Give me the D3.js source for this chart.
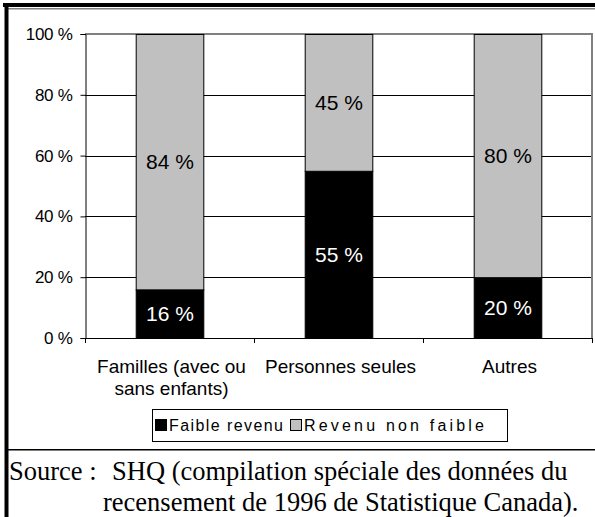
<!DOCTYPE html>
<html><head><meta charset="utf-8">
<script src="https://cdn.jsdelivr.net/npm/d3@7"></script>
<style>body{margin:0;background:#fff}svg{display:block}</style>
</head><body>
<script>
const categories = [["Familles (avec ou", "sans enfants)"], ["Personnes seules"], ["Autres"]];
const faibleRevenu = [16, 55, 20];
const revenuNonFaible = [84, 45, 80];
const seriesNames = ["Faible revenu", "Revenu non faible"];
const yTicks = [0, 20, 40, 60, 80, 100];
const sourceLines = ["Source :", "SHQ (compilation spéciale des données du", "recensement de 1996 de Statistique Canada)."];

const W = 595, H = 517;
const svg = d3.select("body").append("svg").attr("width", W).attr("height", H);
const colors = ["#000000", "#c0c0c0"];
const plot = {l: 85, r: 592, t: 34, b: 338};
const sans = "Liberation Sans, Arial, sans-serif";

// frame
svg.append("rect").attr("x", 3).attr("y", 3).attr("width", W - 3).attr("height", 4).attr("fill", "#000");
svg.append("rect").attr("x", 8).attr("y", 8).attr("width", W - 8).attr("height", 1.5).attr("fill", "#808080");
svg.append("rect").attr("x", 4.5).attr("y", 3).attr("width", 4).attr("height", H - 3).attr("fill", "#000");
svg.append("rect").attr("x", 8).attr("y", 449).attr("width", W - 8).attr("height", 1.5).attr("fill", "#000");

const x = d3.scaleBand().domain(d3.range(categories.length)).range([plot.l, plot.r]).paddingInner(0.6).paddingOuter(0.3);
const y = d3.scaleLinear().domain([0, 100]).range([plot.b, plot.t]);

// gridlines
svg.append("g").selectAll("line").data(yTicks.filter(d => d > 0 && d < 100)).join("line")
  .attr("x1", plot.l).attr("x2", plot.r).attr("y1", d => Math.round(y(d)) + 0.5).attr("y2", d => Math.round(y(d)) + 0.5)
  .attr("stroke", "#000").attr("stroke-width", 1);
svg.append("line").attr("x1", plot.l).attr("x2", plot.r + 1).attr("y1", y(100)).attr("y2", y(100)).attr("stroke", "#808080").attr("stroke-width", 2);
svg.append("line").attr("x1", plot.r).attr("x2", plot.r).attr("y1", y(100)).attr("y2", plot.b).attr("stroke", "#808080").attr("stroke-width", 2);

// y axis
const yAxis = d3.axisLeft(y).tickValues(yTicks).tickSize(5).tickFormat(d => d + " %");
const gy = svg.append("g").attr("transform", `translate(${plot.l + 0.5},0)`).call(yAxis);
gy.select(".domain").attr("stroke", "#000");
gy.selectAll(".tick line").attr("stroke", "#000");
gy.selectAll(".tick text").attr("x", -13).attr("font-family", sans).attr("font-size", 17).attr("fill", "#000").attr("letter-spacing", "-0.3px");

// bars
const gb = svg.append("g");
categories.forEach((c, i) => {
  let base = 0;
  [faibleRevenu[i], revenuNonFaible[i]].forEach((v, k) => {
    gb.append("rect").attr("x", x(i) + 0.5).attr("width", x.bandwidth())
      .attr("y", y(base + v) + 0.5).attr("height", y(base) - y(base + v))
      .attr("fill", colors[k]).attr("stroke", "#000").attr("stroke-width", 1);
    gb.append("text").attr("x", x(i) + x.bandwidth() / 2 + 0.5).attr("y", y(base + v / 2))
      .attr("dy", "0.36em").attr("text-anchor", "middle")
      .attr("font-family", sans).attr("font-size", 21)
      .attr("fill", k === 0 ? "#fff" : "#000").text(v + " %");
    base += v;
  });
});

// x axis
svg.append("line").attr("x1", plot.l).attr("x2", plot.r + 1).attr("y1", plot.b + 0.5).attr("y2", plot.b + 0.5).attr("stroke", "#000");
svg.append("g").selectAll("line").data(d3.range(categories.length + 1)).join("line")
  .attr("x1", i => Math.round(x(0) - x.paddingOuter() * x.step() + i * x.step()) + 0.5)
  .attr("x2", i => Math.round(x(0) - x.paddingOuter() * x.step() + i * x.step()) + 0.5)
  .attr("y1", plot.b).attr("y2", plot.b + 5).attr("stroke", "#000");

const gc = svg.append("g");
categories.forEach((lines, i) => {
  const t = gc.append("text").attr("text-anchor", "middle")
    .attr("font-family", sans).attr("font-size", 19).attr("fill", "#000");
  lines.forEach((ln, j) => {
    t.append("tspan").attr("x", x(i) + x.bandwidth() / 2 + 2).attr("y", 373 + j * 22).text(ln);
  });
});

// legend
const lg = svg.append("g");
lg.append("rect").attr("x", 152.5).attr("y", 409.5).attr("width", 355).attr("height", 32).attr("fill", "#fff").attr("stroke", "#000");
const legendX = [155, 290];
const legendLen = [114, 180];
seriesNames.forEach((n, k) => {
  lg.append("rect").attr("x", legendX[k] + 0.5).attr("y", 419.5).attr("width", 11).attr("height", 11).attr("fill", colors[k]).attr("stroke", "#000");
  lg.append("text").attr("x", legendX[k] + 14).attr("y", 431)
    .attr("font-family", sans).attr("font-size", 16).attr("textLength", legendLen[k]).attr("lengthAdjust", "spacing")
    .attr("fill", "#000").text(n);
});

// source
const src = svg.append("g").attr("font-family", "Liberation Serif, Times New Roman, serif").attr("font-size", 26.5).attr("fill", "#000");
src.append("text").attr("x", 9).attr("y", 480).text(sourceLines[0]);
src.append("text").attr("x", 112).attr("y", 480).text(sourceLines[1]);
src.append("text").attr("x", 103).attr("y", 511).text(sourceLines[2]);
</script>
</body></html>
